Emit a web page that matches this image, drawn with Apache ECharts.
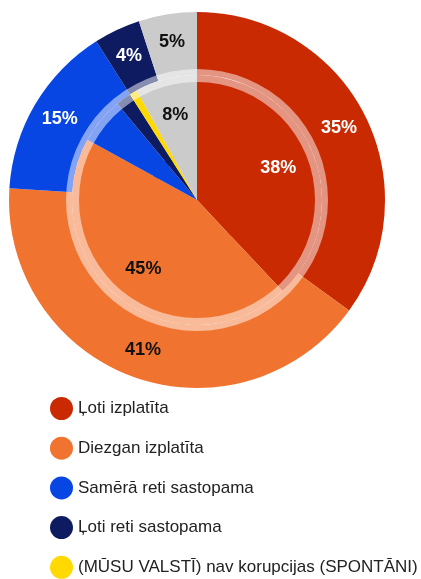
<!DOCTYPE html>
<html>
<head>
<meta charset="utf-8">
<script src="https://cdn.jsdelivr.net/npm/echarts@6/dist/echarts.min.js"></script>
<style>
  html, body { margin: 0; padding: 0; background: #fff; }
  #chart { width: 421px; height: 579px; }
</style>
</head>
<body>
<div id="chart"></div>
<script>
// kategorijas
var categories = ['Ļoti izplatīta', 'Diezgan izplatīta', 'Samērā reti sastopama', 'Ļoti reti sastopama', '(MŪSU VALSTĪ) nav korupcijas (SPONTĀNI)', 'Nezina'];
// ārējais gredzens
var outerValues = [35, 41, 15, 4, 0, 5];
// iekšējais aplis
var innerValues = [38, 45, 6, 2, 1, 8];
var innerLabelled = [true, true, false, false, false, true];
var colors = ['#c92a02', '#f07430', '#0846e4', '#0f1b60', '#ffd900', '#cbcbcb'];
var labelColors = ['#fff', '#111', '#fff', '#fff', '#111', '#111'];

var font = "'Liberation Sans', Arial, sans-serif";
var center = [197, 200];

function items(values, showFlags) {
  return values.map(function (v, i) {
    return {
      name: categories[i],
      value: v,
      itemStyle: { color: colors[i] },
      label: {
        show: showFlags ? showFlags[i] : v > 0,
        color: labelColors[i]
      }
    };
  });
}

var labelStyle = {
  position: 'inside',
  formatter: function (p) { return p.value + '%'; },
  fontFamily: font,
  fontWeight: 'bold',
  fontSize: 18
};

var chart = echarts.init(document.getElementById('chart'));
chart.setOption({
  backgroundColor: '#fff',
  animation: false,
  legend: {
    data: categories.slice(0, 5),
    orient: 'vertical',
    left: 45,
    top: 392,
    height: 200,
    icon: 'circle',
    itemWidth: 23,
    itemHeight: 23,
    itemGap: 16.7,
    textStyle: { fontFamily: font, fontSize: 17, color: '#222' }
  },
  series: [
    {
      name: 'outer',
      type: 'pie',
      center: center,
      radius: [125, 188],
      startAngle: 90,
      clockwise: true,
      silent: true,
      labelLine: { show: false },
      label: labelStyle,
      data: items(outerValues)
    },
    {
      name: 'innerCore',
      type: 'pie',
      center: center,
      radius: [0, 50],
      startAngle: 90,
      silent: true,
      label: { show: false },
      labelLine: { show: false },
      data: items(innerValues, [false, false, false, false, false, false])
    },
    {
      name: 'inner',
      type: 'pie',
      center: center,
      radius: [44, 125],
      startAngle: 90,
      silent: true,
      labelLine: { show: false },
      label: labelStyle,
      data: items(innerValues, innerLabelled)
    },
    {
      name: 'ring',
      type: 'pie',
      center: center,
      radius: [118, 131],
      silent: true,
      label: { show: false },
      labelLine: { show: false },
      data: [{ name: 'ring', value: 1, itemStyle: { color: 'rgba(255,255,255,0.5)' } }]
    }
  ]
});
</script>
</body>
</html>
